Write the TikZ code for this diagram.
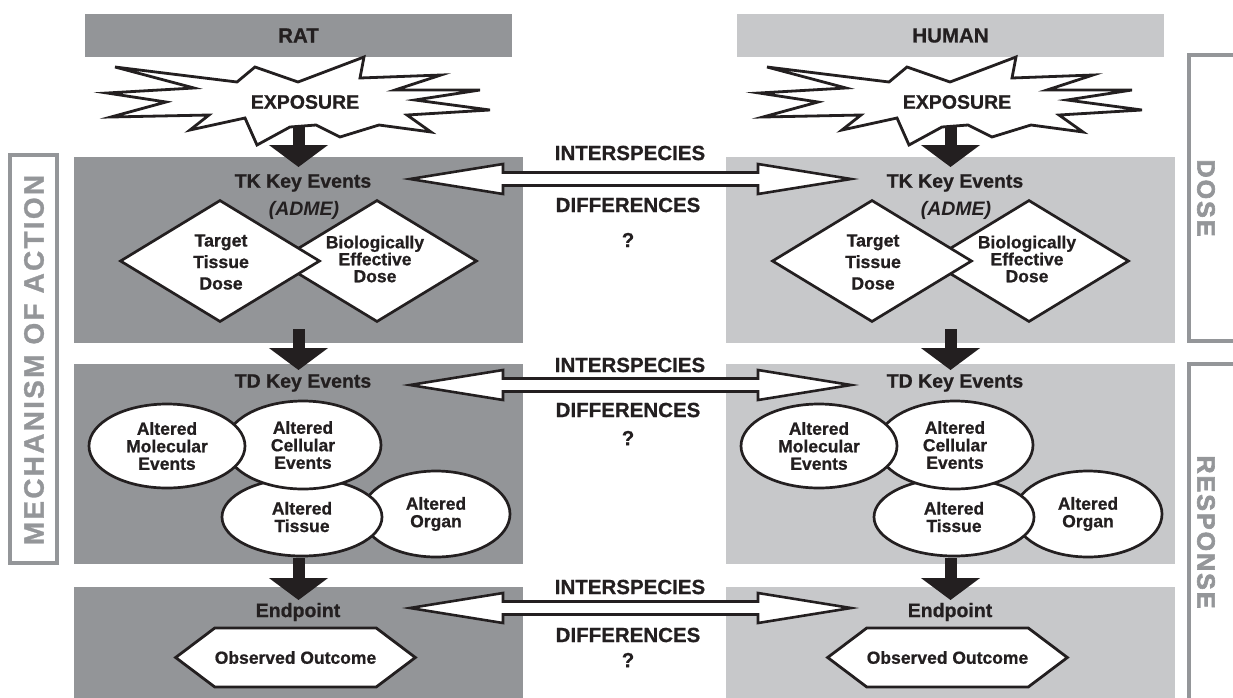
\documentclass[tikz,border=0pt]{standalone}
\usepackage{fontspec}
\setmainfont{Liberation Sans}[BoldFeatures={FakeBold=0.8}]
\newfontfamily\sidefont{Liberation Sans}[UprightFont={* Bold}, UprightFeatures={FakeBold=1}, LetterSpace=8]
\newfontfamily\sidefontR{Liberation Sans}[UprightFont={* Bold}, UprightFeatures={FakeBold=2.5}, LetterSpace=8]
\usetikzlibrary{calc,arrows.meta,shapes.geometric,shapes.symbols}

\definecolor{darkpanel}{RGB}{147,149,152}
\definecolor{lightpanel}{RGB}{199,200,202}
\definecolor{framegray}{RGB}{148,150,153}
\definecolor{ink}{RGB}{35,31,32}

\newcommand{\fsz}[2]{\fontsize{#1}{#2}\selectfont}

\tikzset{
  hdr/.style={minimum width=427, minimum height=43, inner sep=0, text=ink, font=\bfseries\fsz{20.5}{24}},
  panel/.style={minimum width=449, inner sep=0, anchor=north},
  ttl/.style={inner sep=1, text=ink, font=\bfseries\fsz{19.5}{22}},
  burst/.style={draw=ink, fill=white, line width=2.8, line join=miter},
  downarr/.style={draw=ink, line width=12, -{Triangle[length=22pt,width=58pt]}},
  dmd/.style={diamond, draw=ink, fill=white, line width=2.7, minimum width=200, minimum height=122, inner sep=0},
  dtxt/.style={align=center, text=ink, inner sep=0},
  blob/.style={ellipse, draw=ink, fill=white, line width=2.7, inner sep=0, align=center, text=ink, font=\bfseries\fsz{17.5}{17.5}},
  hexa/.style={signal, signal to=west and east, signal pointer angle=74, draw=ink, fill=white, line width=2.8, minimum width=239, minimum height=59, inner sep=0, text=ink, font=\bfseries\fsz{17.5}{20}},
  hollowarr/.style={draw=ink, fill=white, line width=2.6, line join=miter},
  gaptxt/.style={inner sep=0, text=ink, font=\bfseries\fsz{20.5}{24}},
  frame/.style={draw=framegray, line width=4.5},
  sidelbl/.style={inner sep=0, text=framegray, font=\sidefontR\fsz{25}{30}},
}

\begin{document}
\begin{tikzpicture}[x=1pt, y=-1pt]
  \useasboundingbox (0,0) rectangle (1233,697);

  % side frames
  \draw[frame] (10,155) rectangle (57,563);
  \node[sidelbl, rotate=90, font=\sidefont\fsz{28}{30}] (moa) at (34,360) {MECHANISM OF ACTION};
  \draw[frame] (1189,55) rectangle (1240,341);
  \node[sidelbl, rotate=270] (dose) at (1206,198) {DOSE};
  \draw[frame] (1189,364) rectangle (1240,705);
  \node[sidelbl, rotate=270] (resp) at (1206,532) {RESPONSE};

  % the two species columns
  \foreach \dx/\s/\col/\who in {0/L/darkpanel/RAT,652/R/lightpanel/HUMAN}{
    \begin{scope}[xshift=\dx]
      \node[hdr, fill=\col] (hdr\s) at (298.5,35.5) {\who};
      \node[panel, fill=\col, minimum height=186] (tk\s) at (298.5,157) {};
      \node[panel, fill=\col, minimum height=200] (td\s) at (298.5,364) {};
      \node[panel, fill=\col, minimum height=112] (ep\s) at (298.5,587) {};
      % exposure
      \draw[burst] (115,67) -- (237,82) -- (255,67) -- (298,82) -- (364,57) -- (360,78)
        -- (441,75) -- (395,90) -- (480,90) -- (415,100) -- (490,110) -- (407,115)
        -- (431,132) -- (379,125) -- (340,137) -- (316,125) -- (290,127) -- (257,145)
        -- (245,118) -- (190,130) -- (209,115) -- (111,117) -- (166,102) -- (107,93)
        -- (194,88) -- cycle;
      \node[ttl, minimum height=50] (exp\s) at (305,102) {EXPOSURE};
      % TK key events
      \node[ttl] (tkT\s) at (303,183) {TK Key Events};
      \node[ttl, font=\bfseries\itshape\fsz{19.5}{22}] (adme\s) at (304,210) {(ADME)};
      \node[dmd] (bio\s) at (377,261) {};
      \node[dmd] (tgt\s) at (220,261) {};
      \node[dtxt, font=\bfseries\fsz{17.7}{21.5}] (tgtTxt\s) at (221,262) {Target\\Tissue\\Dose};
      \node[dtxt, font=\bfseries\fsz{17.5}{17}] (bioTxt\s) at (375,259) {Biologically\\Effective\\Dose};
      % TD key events
      \node[ttl] (tdT\s) at (303,383) {TD Key Events};
      \node[blob, minimum width=148, minimum height=86] (org\s) at (436,514) {Altered\\Organ};
      \node[blob, minimum width=160, minimum height=78] (tis\s) at (302,517) {Altered\\Tissue};
      \node[blob, minimum width=156, minimum height=88] (cel\s) at (303,445) {Altered\\Cellular\\Events};
      \node[blob, minimum width=156, minimum height=84] (mol\s) at (167,446) {Altered\\Molecular\\Events};
      % endpoint
      \node[ttl] (epT\s) at (298,612) {Endpoint};
      \node[hexa] (obs\s) at (295.5,657.5) {Observed Outcome};
      % flow arrows
      \draw[downarr] (exp\s.south -| tk\s.north) -- ($(tk\s.north)+(0,10)$);
      \draw[downarr] ($(tk\s.south)+(0,-14)$) -- ($(td\s.north)+(0,6)$);
      \draw[downarr] ($(td\s.south)+(0,-6)$) -- ($(ep\s.north)+(0,13)$);
    \end{scope}
  }

  % interspecies differences
  \foreach \n/\ya/\yi/\yd/\yq in {1/179/153/205/240,2/385/365/410/438,3/608/587/635/660}{
    \coordinate (gapL\n) at (410,\ya);
    \coordinate (gapR\n) at (851,\ya);
    \draw[hollowarr] (gapL\n) -- ++(93,-15) -- ++(0,8.5) -- ($(gapR\n)+(-93,-6.5)$) -- ++(0,-8.5)
      -- (gapR\n) -- ++(-93,15) -- ++(0,-8.5) -- ($(gapL\n)+(93,6.5)$) -- ++(0,8.5) -- cycle;
    \node[gaptxt] (inter\n) at (630,\yi) {INTERSPECIES};
    \node[gaptxt] (diff\n) at (628,\yd) {DIFFERENCES};
    \node[gaptxt] (quest\n) at (628,\yq) {?};
  }
\end{tikzpicture}
\end{document}
